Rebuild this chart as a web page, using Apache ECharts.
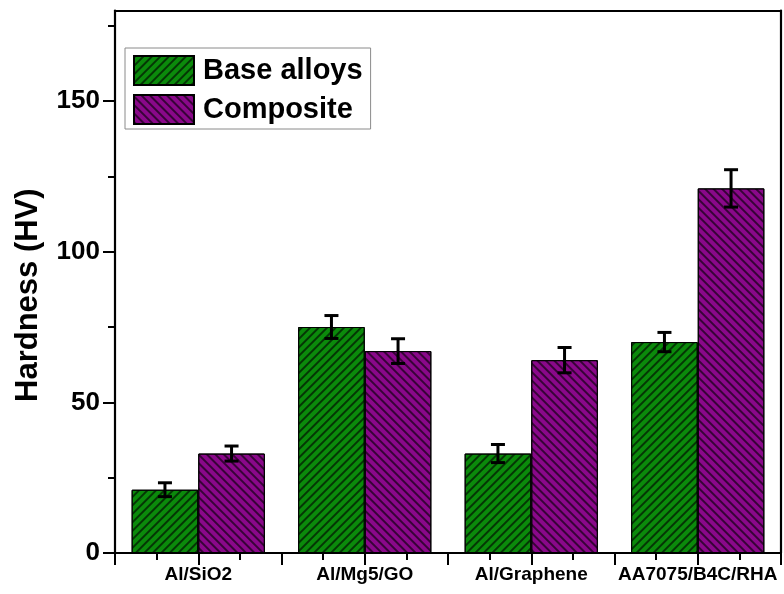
<!DOCTYPE html>
<html><head><meta charset="utf-8">
<script src="https://cdn.jsdelivr.net/npm/echarts@6/dist/echarts.min.js"></script>
<style>html,body{margin:0;padding:0;background:#fff}#c{width:784px;height:594px}</style>
</head><body><div id="c"></div>
<script>
var categories = ['Al/SiO2', 'Al/Mg5/GO', 'Al/Graphene', 'AA7075/B4C/RHA'];
var baseValues = [21, 75, 33, 70];
var baseErrors = [2.3, 3.8, 3.0, 3.2];
var compValues = [33, 67, 64, 121];
var compErrors = [2.5, 4.1, 4.2, 6.2];
var yMajorTicks = [0, 50, 100, 150];
var yMinorTicks = [25, 75, 125, 175];

var FONT = '"Liberation Sans", Arial, sans-serif';
var chart = echarts.init(document.getElementById('c'), null, {renderer: 'canvas'});

function errData(vals, errs) {
  return vals.map(function (v, i) { return [i, v, errs[i]]; });
}
function errRender(sign) {
  return function (params, api) {
    var i = api.value(0), v = api.value(1), e = api.value(2);
    var bw = api.size([1, 0])[0];
    var top = api.coord([i, v + e]);
    var bot = api.coord([i, v - e]);
    var cx = top[0] + sign * bw * 0.2;
    var cap = 7;
    var st = {stroke: '#000', lineWidth: 3};
    return {type: 'group', children: [
      {type: 'line', shape: {x1: cx, y1: top[1], x2: cx, y2: bot[1]}, style: st},
      {type: 'line', shape: {x1: cx - cap, y1: top[1], x2: cx + cap, y2: top[1]}, style: st},
      {type: 'line', shape: {x1: cx - cap, y1: bot[1], x2: cx + cap, y2: bot[1]}, style: st}
    ]};
  };
}
function blanks(n) { var a = []; for (var k = 0; k < n; k++) a.push(String(k)); return a; }

var hatchBase = {symbol: 'rect', dashArrayX: [1, 0], dashArrayY: [1.7, 3.6], symbolSize: 1, rotation: -Math.PI / 4, color: 'rgba(0,0,0,0.6)'};
var hatchComp = {symbol: 'rect', dashArrayX: [1, 0], dashArrayY: [1.7, 3.6], symbolSize: 1, rotation: Math.PI / 4, color: 'rgba(0,0,0,0.6)'};

var frameLine = {show: true, onZero: false, lineStyle: {color: '#000', width: 2.2}};
var tickStyle = {color: '#000', width: 2};

chart.setOption({
  animation: false,
  backgroundColor: '#fff',
  grid: [
    {left: 115, right: 3, top: 10.6, bottom: 41},
    {left: 115, right: 3, top: 10.6, bottom: 41}
  ],
  legend: {
    left: 125, top: 48, orient: 'vertical',
    padding: [7, 8, 4, 8], itemGap: 8,
    itemWidth: 60, itemHeight: 29, icon: 'rect',
    borderColor: '#8a8a8a', borderWidth: 1,
    textStyle: {fontFamily: FONT, fontWeight: 'bold', fontSize: 29, color: '#000', padding: [0, 0, 0, 4]},
    data: ['Base alloys', 'Composite']
  },
  xAxis: [
    {type: 'category', gridIndex: 0, data: categories, position: 'bottom',
      axisLine: {show: false}, axisTick: {show: true, interval: 0, length: 12, lineStyle: tickStyle},
      axisLabel: {interval: 0, fontFamily: FONT, fontWeight: 'bold', fontSize: 19, color: '#000', margin: 12}},
    {type: 'category', gridIndex: 0, data: blanks(8), position: 'bottom',
      axisLine: {show: false}, axisLabel: {show: false, interval: 0},
      axisTick: {show: true, interval: 0, length: 12, lineStyle: tickStyle}},
    {type: 'category', gridIndex: 0, data: blanks(16), position: 'bottom',
      axisLine: {show: false}, axisLabel: {show: false, interval: 0},
      axisTick: {show: true, interval: 0, length: 7, lineStyle: tickStyle}},
    {type: 'value', gridIndex: 1, min: 0, max: 1, position: 'bottom', z: 10,
      axisLine: frameLine, axisTick: {show: false}, axisLabel: {show: false}, splitLine: {show: false}},
    {type: 'value', gridIndex: 1, min: 0, max: 1, position: 'top', z: 10,
      axisLine: frameLine, axisTick: {show: false}, axisLabel: {show: false}, splitLine: {show: false}}
  ],
  yAxis: [
    {type: 'value', gridIndex: 0, min: 0, max: 180,
      axisLine: {show: false},
      axisTick: {show: true, length: 12, lineStyle: tickStyle, customValues: yMajorTicks},
      splitLine: {show: false},
      axisLabel: {customValues: yMajorTicks, fontFamily: FONT, fontWeight: 'bold', fontSize: 26, color: '#000', margin: 15}},
    {type: 'value', gridIndex: 0, min: 0, max: 180, position: 'left',
      axisLine: {show: false},
      axisTick: {show: true, length: 7, lineStyle: tickStyle, customValues: yMinorTicks},
      splitLine: {show: false},
      axisLabel: {show: false}},
    {type: 'value', gridIndex: 1, min: 0, max: 1, position: 'left', z: 10,
      axisLine: frameLine, axisTick: {show: false}, axisLabel: {show: false}, splitLine: {show: false}},
    {type: 'value', gridIndex: 1, min: 0, max: 1, position: 'right', z: 10,
      axisLine: frameLine, axisTick: {show: false}, axisLabel: {show: false}, splitLine: {show: false}}
  ],
  graphic: [
    {type: 'text', z: 20, rotation: Math.PI / 2, x: 13, y: 402,
      style: {text: 'Hardness (HV)', fontFamily: FONT, fontWeight: 'bold', fontSize: 31, fill: '#000'}}
  ],
  series: [
    {name: 'Base alloys', type: 'bar', xAxisIndex: 0, yAxisIndex: 0, data: baseValues,
      barWidth: '40%', barGap: '0%',
      itemStyle: {color: '#0b8a0b', borderColor: '#000', borderWidth: 1, decal: hatchBase}},
    {name: 'Composite', type: 'bar', xAxisIndex: 0, yAxisIndex: 0, data: compValues,
      barWidth: '40%', barGap: '0%',
      itemStyle: {color: '#8a088a', borderColor: '#000', borderWidth: 1, decal: hatchComp}},
    {type: 'custom', xAxisIndex: 0, yAxisIndex: 0, z: 5, renderItem: errRender(-1),
      data: errData(baseValues, baseErrors)},
    {type: 'custom', xAxisIndex: 0, yAxisIndex: 0, z: 5, renderItem: errRender(1),
      data: errData(compValues, compErrors)}
  ]
});
</script></body></html>
